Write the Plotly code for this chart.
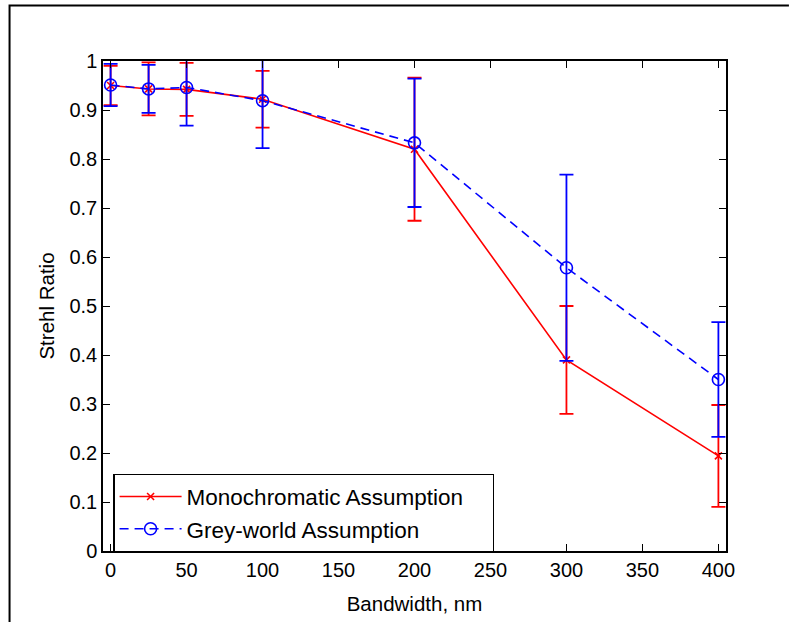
import plotly.graph_objects as go

bandwidth = [0, 25, 50, 100, 200, 300, 400]
mono_sr = [0.950, 0.943, 0.942, 0.922, 0.820, 0.390, 0.194]
mono_err = [0.040, 0.054, 0.054, 0.058, 0.146, 0.110, 0.104]
grey_sr = [0.951, 0.943, 0.946, 0.919, 0.833, 0.578, 0.350]
grey_err = [0.043, 0.049, 0.078, 0.097, 0.131, 0.190, 0.117]

x_ticks = [0, 50, 100, 150, 200, 250, 300, 350, 400]
y_ticks = [0, 0.1, 0.2, 0.3, 0.4, 0.5, 0.6, 0.7, 0.8, 0.9, 1]
y_tick_labels = ["0", "0.1", "0.2", "0.3", "0.4", "0.5", "0.6", "0.7", "0.8", "0.9", "1"]

FONT = "Liberation Sans, Arial, Helvetica, sans-serif"
PAD = "\u00a0\u00a0\u00a0\u00a0"

fig = go.Figure()
fig.add_trace(go.Scatter(
    x=bandwidth, y=mono_sr, mode="lines+markers",
    name="Monochromatic Assumption" + PAD,
    line=dict(color="#ff0000", width=1.6),
    marker=dict(symbol="x-thin", size=7, line=dict(color="#ff0000", width=1.6), color="#ff0000"),
    error_y=dict(type="data", array=mono_err, visible=True, color="#ff0000", thickness=1.8, width=7),
))
fig.add_trace(go.Scatter(
    x=bandwidth, y=grey_sr, mode="lines+markers",
    name="Grey-world Assumption",
    line=dict(color="#0000ff", width=1.6, dash="9px,6px"),
    marker=dict(symbol="circle-open", size=12, line=dict(color="#0000ff", width=1.6), color="#0000ff"),
    error_y=dict(type="data", array=grey_err, visible=True, color="#0000ff", thickness=1.8, width=7),
))

axis_common = dict(
    showline=True, linecolor="black", linewidth=1.5, mirror="ticks",
    ticks="inside", ticklen=7, tickwidth=1.2, tickcolor="black",
    showgrid=False, zeroline=False,
    tickfont=dict(family=FONT, size=20, color="black"),
)

fig.update_xaxes(range=[-5, 405], tickvals=x_ticks,
                 title=dict(text="Bandwidth, nm", font=dict(family=FONT, size=20.5, color="black"), standoff=17),
                 **axis_common)
fig.update_yaxes(range=[0, 1], tickvals=y_ticks, ticktext=y_tick_labels,
                 title=dict(text="Strehl Ratio", font=dict(family=FONT, size=20.5, color="black"), standoff=9),
                 **axis_common)

# outer frame (top and left edges) as one open path
fig.add_shape(type="path", xref="paper", yref="paper",
              path="M -0.150,-0.145 L -0.150,1.1135 L 1.101,1.1135",
              line=dict(color="black", width=2))

fig.update_layout(
    width=789, height=622,
    margin=dict(l=103, r=63, t=61, b=71, autoexpand=False),
    plot_bgcolor="white", paper_bgcolor="white",
    font=dict(family=FONT, color="black"),
    showlegend=True,
    legend=dict(x=0.0165, y=0.157, xanchor="left", yanchor="top",
                bordercolor="black", borderwidth=1.3, bgcolor="white",
                font=dict(family=FONT, size=22.5, color="black"),
                itemwidth=62, tracegroupgap=0),
)

fig.write_html(
    "out.html", config={"displayModeBar": False},
    post_script=("document.documentElement.style.margin='0';"
                 "document.documentElement.style.overflow='hidden';"
                 "document.body.style.margin='0';document.body.style.overflow='hidden';"),
)
